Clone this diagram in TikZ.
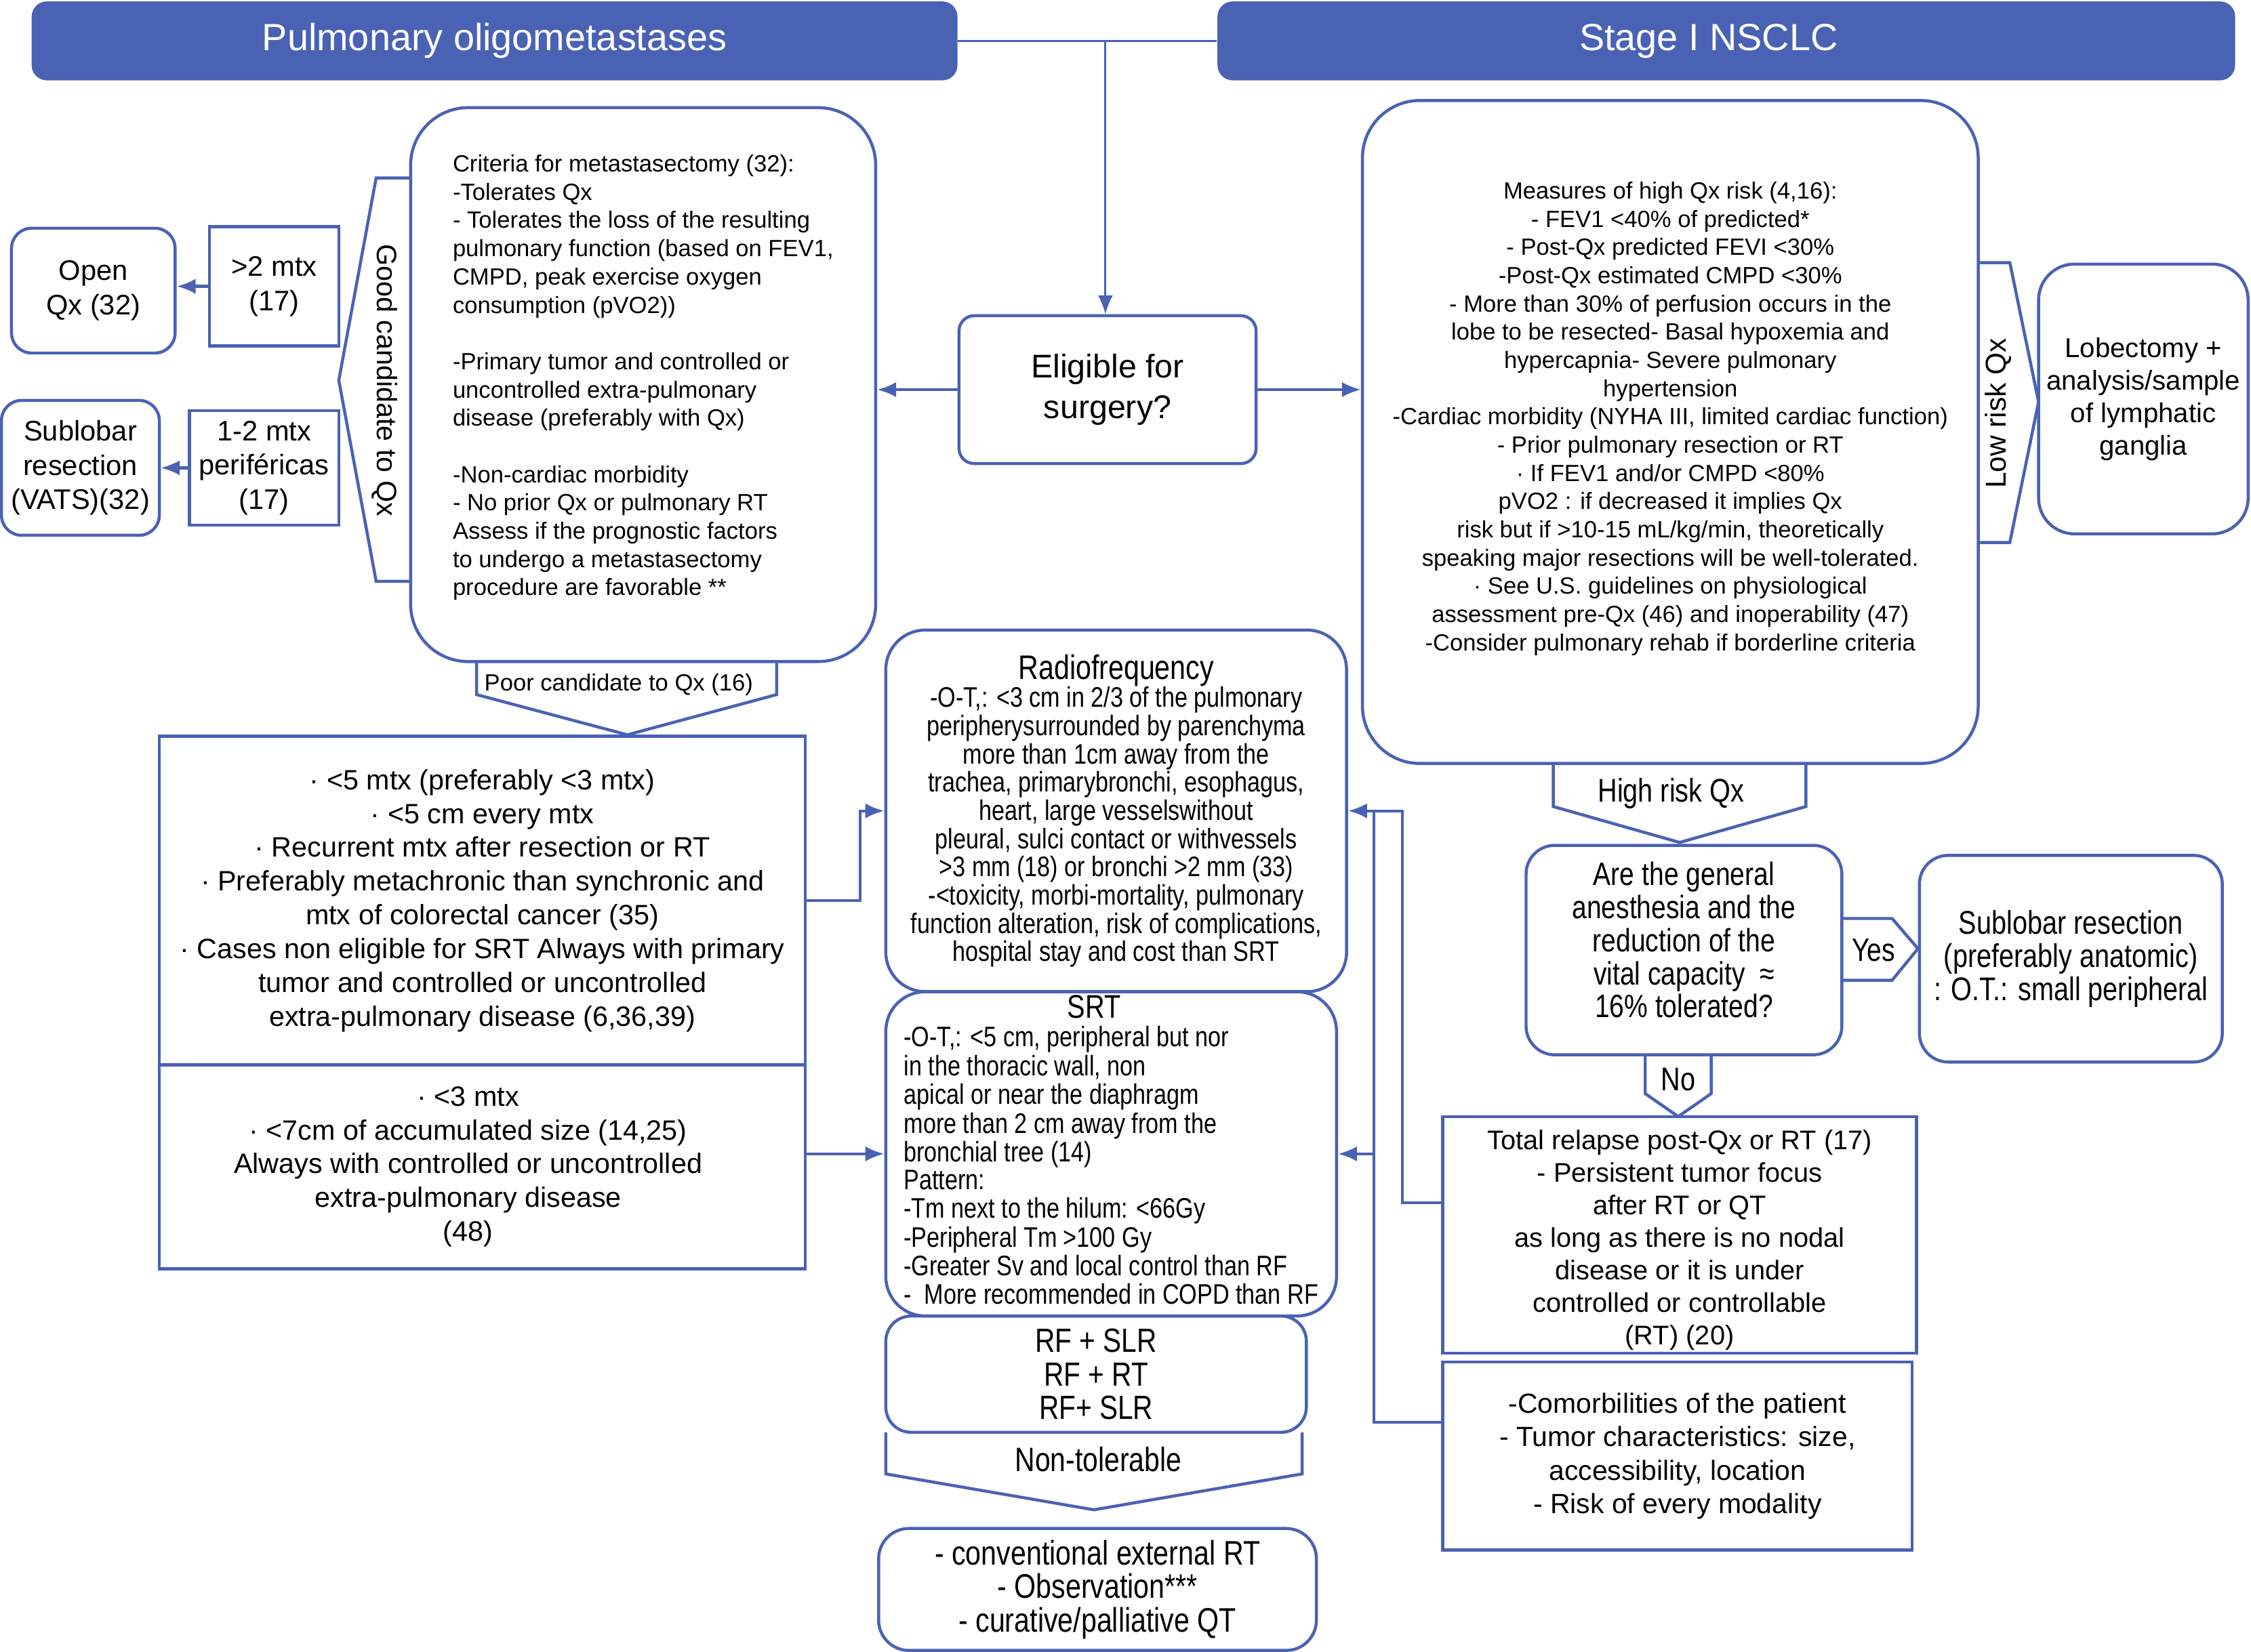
\documentclass[tikz,border=0pt]{standalone}
\usepackage{fontspec}
\setmainfont{Liberation Sans}
\newfontfamily\narrowsf[FakeStretch=0.82]{Liberation Sans}
\usepackage{tikz}
\usetikzlibrary{arrows.meta,calc,positioning}
\definecolor{pblue}{RGB}{74,98,180}
\newcommand{\fsz}[2]{\fontsize{#1}{#2}\selectfont}

\begin{document}
\begin{tikzpicture}[x=0.02cm,y=-0.02cm,>={Latex[length=7.5pt,width=6pt]},
  box/.style={draw=pblue,line width=1.2pt,align=center,inner sep=1pt},
  rbox/.style={box,rounded corners=#1},
  rbox/.default=6pt,
  head/.style={fill=pblue,rounded corners=6pt,text=white,font=\fsz{15}{18}},
  link/.style={draw=pblue,line width=1.1pt},
  tag/.style={draw=pblue,line width=1.2pt}]
	\useasboundingbox (0,0) rectangle (1568,1151);

	% the two entry points
	\node[head,minimum width=12.9cm,minimum height=1.1cm] (pulm) at (344.5,28.5) {Pulmonary oligometastases};
	\node[head,minimum width=14.18cm,minimum height=1.1cm] (nsclc) at (1202.5,28.5) {Stage I NSCLC\hspace*{14pt}};
	\node[rbox=6pt,minimum width=4.14cm,minimum height=2.06cm,font=\fsz{13}{16}] (elig) at (771.5,271.5) {Eligible for\\surgery?};
	\coordinate (split) at (770,28.5);

	% metastases side
	\node[rbox=0.8cm,minimum width=6.48cm,minimum height=7.72cm,align=left,font=\fsz{9.3}{11.2}] (crit) at (448,268) {Criteria for metastasectomy (32):\\
		-Tolerates Qx\\
		- Tolerates the loss of the resulting\\
		pulmonary function (based on FEV1,\\
		CMPD, peak exercise oxygen\\
		consumption (pVO2))\\[11.2pt]
		-Primary tumor and controlled or\\
		uncontrolled extra-pulmonary\\
		disease (preferably with Qx)\\[11.2pt]
		-Non-cardiac morbidity\\
		- No prior Qx or pulmonary RT\\
		Assess if the prognostic factors\\
		to undergo a metastasectomy\\
		procedure are favorable **\rule[-7.5pt]{0pt}{0pt}};
	\draw[tag] (286,124) -- (262,124) -- (236,265) -- (262,405) -- (286,405);
	\node[rotate=-90,font=\fsz{11.1}{13}] (good) at (268,265) {Good candidate to Qx};
	\node[box,minimum width=1.8cm,minimum height=1.66cm,font=\fsz{11.2}{13.6}] (gt2) at (191,199.5) {>2 mtx\\(17)};
	\node[rbox=8pt,minimum width=2.28cm,minimum height=1.74cm,font=\fsz{11.2}{13.6}] (open) at (65,202.5) {Open\\Qx (32)};
	\node[box,minimum width=2.08cm,minimum height=1.6cm,font=\fsz{11.2}{13.6}] (onetwo) at (184,326) {1-2 mtx\\periféricas\\(17)};
	\node[rbox=8pt,minimum width=2.2cm,minimum height=1.88cm,font=\fsz{11.2}{13.6}] (vats) at (56,326) {Sublobar\\resection\\(VATS)(32)};

	\draw[tag] (332,461) -- (332,484) -- (437,512) -- (541,484) -- (541,461);
	\node[font=\fsz{9.3}{11}] (poor) at (431,477) {Poor candidate to Qx (16)};
	\node[box,minimum width=9cm,minimum height=4.58cm,font=\fsz{11.1}{13.4}] (mtx5) at (336,627.5) {· <5 mtx (preferably <3 mtx)\\
		· <5 cm every mtx\\
		· Recurrent mtx after resection or RT\\
		· Preferably metachronic than synchronic and\\
		mtx of colorectal cancer (35)\\
		· Cases non eligible for SRT Always with primary\\
		tumor and controlled or uncontrolled\\
		extra-pulmonary disease (6,36,39)};
	\node[box,minimum width=9cm,minimum height=2.84cm,font=\fsz{11.1}{13.4}] (mtx3) at (336,813) {\begin{tabular}{@{}c@{\hspace{11.3pt}}}
		· <3 mtx\\
		· <7cm of accumulated size (14,25)\\
		Always with controlled or uncontrolled\\
		extra-pulmonary disease\\
		(48)
		\end{tabular}};

	% local treatments
	\node[rbox=0.55cm,minimum width=6.42cm,minimum height=5.04cm,font=\narrowsf\fsz{11.2}{11.2}] (rf) at (777.5,565) {{\fsz{13.5}{14}Radiofrequency}\\
		-O-T,: <3 cm in 2/3 of the pulmonary\\
		peripherysurrounded by parenchyma\\
		more than 1cm away from the\\
		trachea, primarybronchi, esophagus,\\
		heart, large vesselswithout\\
		pleural, sulci contact or withvessels\\
		>3 mm (18) or bronchi >2 mm (33)\\
		-<toxicity, morbi-mortality, pulmonary\\
		function alteration, risk of complications,\\
		hospital stay and cost than SRT};
	\node[rbox=0.55cm,minimum width=6.28cm,minimum height=4.52cm,inner sep=0pt,font=\narrowsf\fsz{11.2}{10.9}] (srt) at (774,804) {\begin{tabular}{@{}l@{}}
		\multicolumn{1}{@{}c@{\hspace{13.6pt}}}{\fsz{13}{14}SRT}\\
		-O-T,: <5 cm, peripheral but nor\\
		in the thoracic wall, non\\
		apical or near the diaphragm\\
		more than 2 cm away from the\\
		bronchial tree (14)\\
		Pattern:\\
		-Tm next to the hilum: <66Gy\\
		-Peripheral Tm >100 Gy\\
		-Greater Sv and local control than RF\\
		-\ \ More recommended in COPD than RF
		\end{tabular}};
	\node[rbox=10pt,minimum width=5.86cm,minimum height=1.62cm,font=\narrowsf\fsz{13.3}{13.3}] (combo) at (763.5,957.5) {RF + SLR\\RF + RT\\RF+ SLR};
	\draw[tag] (617,998) -- (617,1027) -- (762,1052) -- (907,1027) -- (907,998);
	\node[font=\narrowsf\fsz{13.4}{14}] (nontol) at (765,1017) {Non-tolerable};
	\node[rbox=12pt,minimum width=6.1cm,minimum height=1.7cm,font=\narrowsf\fsz{13.5}{13.3}] (alt) at (764.5,1107.5) {- conventional external RT\\- Observation***\\- curative/palliative QT};

	% NSCLC side
	\node[rbox=0.8cm,minimum width=8.58cm,minimum height=9.24cm,font=\fsz{9.3}{11.2}] (meas) at (1163.5,301) {Measures of high Qx risk (4,16):\\
		- FEV1 <40\% of predicted*\\
		- Post-Qx predicted FEVI <30\%\\
		-Post-Qx estimated CMPD <30\%\\
		- More than 30\% of perfusion occurs in the\\
		lobe to be resected- Basal hypoxemia and\\
		hypercapnia- Severe pulmonary\\
		hypertension\\
		-Cardiac morbidity (NYHA III, limited cardiac function)\\
		- Prior pulmonary resection or RT\\
		· If FEV1 and/or CMPD <80\%\\
		pVO2 : if decreased it implies Qx\\
		risk but if >10-15 mL/kg/min, theoretically\\
		speaking major resections will be well-tolerated.\\
		· See U.S. guidelines on physiological\\
		assessment pre-Qx (46) and inoperability (47)\\
		-Consider pulmonary rehab if borderline criteria\rule[-12.5pt]{0pt}{0pt}};
	\draw[tag] (1378,183) -- (1400,183) -- (1420,280) -- (1400,378) -- (1378,378);
	\node[rotate=90,font=\fsz{11.4}{13}] (lowrisk) at (1392,288) {Low risk Qx};
	\node[rbox=0.5cm,minimum width=2.92cm,minimum height=3.76cm,font=\fsz{10.8}{12.9}] (lobe) at (1493,278) {Lobectomy +\\analysis/sample\\of lymphatic\\ganglia};

	\draw[tag] (1082,532) -- (1082,562) -- (1170,587) -- (1258,562) -- (1258,532);
	\node[font=\narrowsf\fsz{13}{14}] (highrisk) at (1164,553) {High risk Qx};
	\node[rbox=0.4cm,minimum width=4.4cm,minimum height=2.92cm,font=\narrowsf\fsz{12.8}{13.1}] (anest) at (1173,662) {Are the general\\anesthesia and the\\reduction of the\\vital capacity\ \ ≈\\16\% tolerated?\rule[-8pt]{0pt}{0pt}};
	\draw[tag] (1283,640) -- (1318,640) -- (1336,661) -- (1318,683) -- (1283,683);
	\node[font=\narrowsf\fsz{12.8}{14}] (yes) at (1305,662) {Yes};
	\node[rbox=0.4cm,minimum width=4.22cm,minimum height=2.88cm,font=\narrowsf\fsz{13}{13.1}] (sublobar) at (1442.5,668) {Sublobar resection\\(preferably anatomic)\\: O.T.: small peripheral};
	\draw[tag] (1146,735) -- (1146,762) -- (1169,778) -- (1192,762) -- (1192,735);
	\node[font=\narrowsf\fsz{13}{14}] (no) at (1169,752) {No};
	\node[box,minimum width=6.6cm,minimum height=3.3cm,font=\fsz{10.7}{12.9}] (relapse) at (1170,860.5) {\rule{0pt}{12pt}Total relapse post-Qx or RT (17)\\
		- Persistent tumor focus\\
		after RT or QT\\
		as long as there is no nodal\\
		disease or it is under\\
		controlled or controllable\\
		(RT) (20)};
	\node[box,minimum width=6.54cm,minimum height=2.62cm,font=\fsz{11}{13.3}] (comorb) at (1168.5,1014.5) {-Comorbilities of the patient\\
		- Tumor characteristics: size,\\
		accessibility, location\\
		- Risk of every modality};

	% connectors
	\draw[link,line width=0.8pt] (pulm.east) -- (nsclc.west);
	\draw[link,line width=0.8pt,->] (split) -- (split |- elig.north);
	\draw[link,->] (elig.west) -- (elig.west -| crit.east);
	\draw[link,->] (elig.east) -- (elig.east -| meas.west);
	\draw[link,->] (gt2.west) -- (gt2.west -| open.east);
	\draw[link,->] (onetwo.west) -- (onetwo.west -| vats.east);
	\draw[link,->] (mtx5.east) -- ++(37,0) |- (rf.west);
	\draw[link,->] (srt.west -| mtx3.east) -- (srt.west);
	\draw[link,->] ([yshift=0.45cm]relapse.west) -- ++(-27,0) |- (rf.east);
	\draw[link] ([yshift=0.47cm]comorb.west) -- ++(-47,0) coordinate (cj) -- (cj |- rf.east);
	\draw[link,->] (cj |- srt.east) -- (srt.east);
\end{tikzpicture}
\end{document}
